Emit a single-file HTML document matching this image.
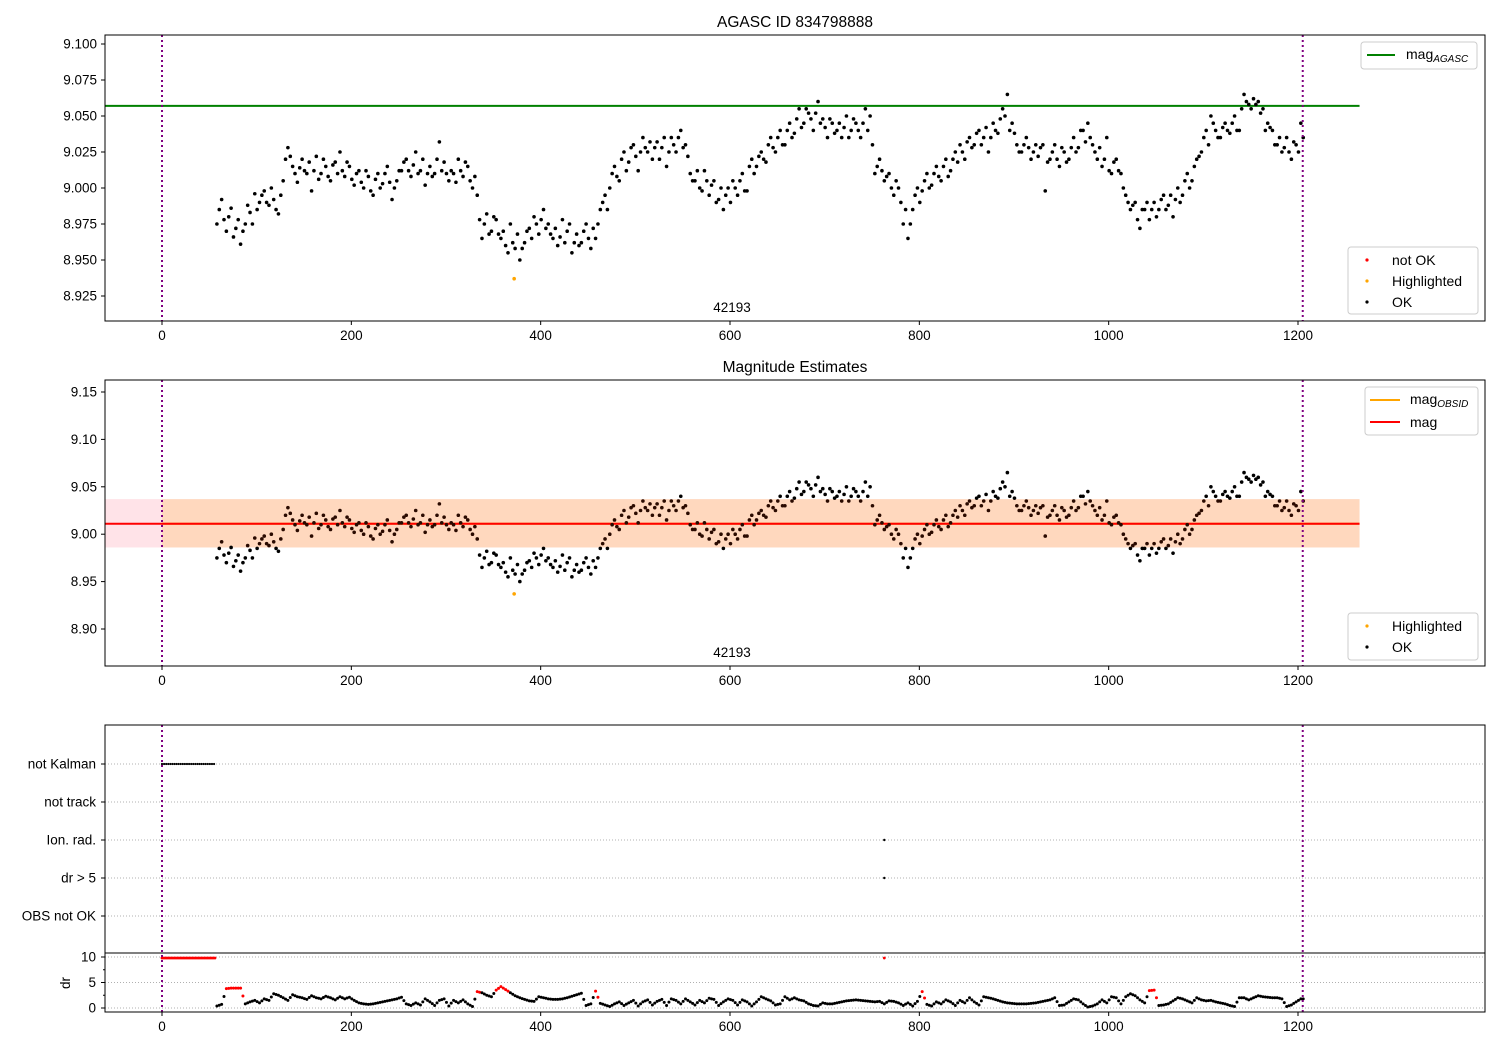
<!DOCTYPE html>
<html><head><meta charset="utf-8"><style>
body{margin:0;background:#fff;}
svg text{font-family:"Liberation Sans","DejaVu Sans",sans-serif;}
</style></head><body>
<svg id="chart" width="1500" height="1050" xmlns="http://www.w3.org/2000/svg"></svg>
<script>
// ----- data -----
const magT0 = 58, magStep = 5;
const magValues = [
8.975,8.992,8.970,8.986,8.972,8.961,8.975,8.983,8.996,8.990,
8.998,8.988,8.992,8.982,9.005,9.028,9.015,9.004,9.020,9.010,
8.998,9.022,9.010,9.015,9.005,9.018,9.025,9.008,9.015,9.002,
9.012,9.000,9.008,8.995,9.010,9.003,9.015,8.992,9.005,9.012,
9.020,9.008,9.025,9.012,9.002,9.015,9.010,9.032,9.018,9.005,
9.010,9.020,9.008,9.015,9.000,8.995,8.965,8.982,8.970,8.978,
8.965,8.960,8.975,8.958,8.950,8.962,8.972,8.980,8.968,8.985,
8.975,8.965,8.960,8.978,8.970,8.955,8.968,8.962,8.975,8.958,
8.965,8.985,8.995,9.000,9.015,9.005,9.025,9.018,9.030,9.012,
9.035,9.025,9.020,9.032,9.028,9.015,9.035,9.025,9.040,9.030,
9.010,9.005,9.000,9.012,8.995,9.005,8.992,8.985,9.000,9.005,
8.995,9.010,8.998,9.020,9.015,9.025,9.018,9.035,9.025,9.040,
9.030,9.045,9.038,9.055,9.045,9.052,9.040,9.060,9.048,9.035,
9.045,9.040,9.035,9.050,9.040,9.045,9.035,9.055,9.050,9.010,
9.020,9.005,9.010,8.995,9.000,8.975,8.965,8.985,9.000,8.998,
9.010,9.002,9.015,9.005,9.020,9.012,9.025,9.030,9.020,9.035,
9.030,9.040,9.035,9.025,9.045,9.038,9.055,9.065,9.045,9.030,
9.025,9.035,9.020,9.030,9.028,8.998,9.020,9.030,9.015,9.025,
9.020,9.035,9.028,9.040,9.045,9.030,9.020,9.015,9.035,9.010,
9.020,9.010,8.995,8.985,8.990,8.972,8.985,8.978,8.990,8.985,
8.995,8.988,8.980,9.000,8.995,9.010,9.005,9.020,9.025,9.040,
9.050,9.040,9.035,9.045,9.038,9.050,9.040,9.065,9.058,9.062,
9.060,9.055,9.045,9.040,9.030,9.025,9.035,9.020,9.030,9.045];
// second set of readings, sampled between the first ones (t = 60.5 + 5i)
const magT0B = 60.5;
const magValuesB = [
8.985,8.978,8.980,8.966,8.978,8.970,8.988,8.975,8.985,8.995,
8.990,9.000,8.985,8.995,9.020,9.022,9.010,9.014,9.012,9.018,
9.012,9.006,9.020,9.008,9.016,9.010,9.012,9.018,9.006,9.010,
9.004,9.012,8.998,9.006,9.000,9.010,9.004,9.000,9.012,9.018,
9.012,9.016,9.010,9.020,9.010,9.008,9.020,9.012,9.010,9.012,
9.004,9.012,9.018,9.005,9.008,8.978,8.975,8.968,8.980,8.968,
8.970,8.955,8.962,8.968,8.958,8.970,8.965,8.975,8.978,8.972,
8.968,8.972,8.966,8.962,8.975,8.962,8.960,8.970,8.965,8.972,
8.975,8.990,8.985,9.010,9.008,9.020,9.012,9.028,9.022,9.025,
9.028,9.032,9.028,9.020,9.035,9.025,9.030,9.035,9.028,9.022,
9.005,9.012,8.998,9.005,9.002,8.990,9.000,8.995,8.990,9.000,
9.005,8.998,9.015,9.010,9.022,9.020,9.030,9.028,9.035,9.030,
9.040,9.035,9.048,9.042,9.055,9.048,9.052,9.045,9.042,9.048,
9.038,9.045,9.042,9.035,9.048,9.040,9.045,9.040,9.030,9.015,
9.012,9.008,9.000,9.005,8.990,8.985,8.975,8.995,8.990,9.005,
9.000,9.010,9.008,9.015,9.008,9.020,9.018,9.025,9.032,9.028,
9.038,9.030,9.042,9.035,9.040,9.048,9.050,9.040,9.038,9.025,
9.030,9.028,9.025,9.022,9.030,9.018,9.025,9.020,9.028,9.018,
9.028,9.025,9.040,9.032,9.035,9.025,9.028,9.020,9.012,9.018,
9.012,9.000,8.990,8.988,8.978,8.985,8.990,8.985,8.980,8.992,
8.985,8.995,8.992,8.990,9.005,9.000,9.015,9.022,9.035,9.030,
9.045,9.035,9.042,9.040,9.045,9.040,9.055,9.060,9.055,9.058,
9.052,9.040,9.042,9.030,9.035,9.028,9.025,9.032,9.025,9.035];
const highlightT = [372];
const highlightMag = [8.937];
const drValues = [
0.4,0.7,3.8,3.9,3.9,3.9,0.8,1.2,1.5,1.0,
1.8,1.5,2.8,2.5,2.0,1.5,2.6,2.2,2.0,1.7,
2.4,2.0,1.8,2.3,2.0,1.6,2.2,1.8,2.1,1.5,
1.0,0.8,0.7,0.8,1.0,1.2,1.4,1.6,1.8,2.1,
0.8,0.5,1.0,0.6,1.8,1.2,0.5,1.5,1.8,0.4,
1.5,1.0,1.6,0.8,0.3,3.2,3.0,2.5,2.2,3.5,
4.2,3.6,3.0,2.4,2.0,1.7,1.4,1.3,2.2,2.0,
1.8,1.7,1.7,1.8,2.0,2.3,2.6,2.9,0.5,0.8,
3.3,0.9,0.6,0.3,0.8,1.2,0.5,1.0,1.5,0.4,
1.2,1.6,0.6,1.3,1.7,0.5,1.8,1.5,0.8,1.8,
1.2,0.6,1.5,1.0,1.9,1.7,0.5,1.2,1.8,1.5,
0.6,1.6,1.2,0.4,1.2,2.2,1.8,1.4,0.6,0.8,
2.2,1.6,2.0,1.6,1.4,0.8,0.5,0.4,1.0,0.8,
0.8,1.0,1.2,1.4,1.5,1.6,1.5,1.4,1.3,1.2,
1.3,0.8,1.4,1.3,1.0,0.5,1.0,0.4,1.3,3.2,
0.7,0.4,1.2,0.8,1.6,1.2,0.5,1.5,1.0,2.0,
1.2,0.6,2.2,2.0,1.8,1.5,1.2,1.0,0.9,0.8,
0.8,0.8,0.9,1.0,1.2,1.4,1.6,2.0,0.5,0.6,
1.2,1.8,1.6,0.8,0.2,0.4,0.8,1.6,1.0,2.2,
2.0,0.8,2.2,2.8,2.4,1.6,1.0,3.4,3.5,0.5,
0.6,0.8,1.4,2.0,1.8,1.4,1.0,2.0,1.6,1.4,
1.5,1.2,1.0,0.8,0.5,0.3,2.0,2.0,1.6,2.0,
2.4,2.2,2.1,2.0,2.0,1.8,0.3,0.6,1.2,1.8];
const kalmanStart = 0, kalmanEnd = 57;
const ionRadT = [763];
const drBigT = [763];
const xTicks = [0,200,400,600,800,1000,1200];
const y1Ticks = [8.925,8.950,8.975,9.000,9.025,9.050,9.075,9.100];
const y2Ticks = [8.90,8.95,9.00,9.05,9.10,9.15];
const flagLabels = ["not Kalman","not track","Ion. rad.","dr > 5","OBS not OK"];
const drTicks = [0,5,10];
const magAgasc = 9.057, magMean = 9.011, magLow = 8.986, magHigh = 9.037;
const obsStart = 0, obsEnd = 1205;

// ----- helpers -----
const svg = document.getElementById('chart');
const NS = 'http://www.w3.org/2000/svg';
function mk(tag, at, parent){const e=document.createElementNS(NS,tag);for(const k in at)e.setAttribute(k,at[k]);(parent||svg).appendChild(e);return e;}
const L=105,R=1485;
const X = t => 162 + (t)*0.94667;
const Y1 = m => 44 + (9.1-m)*1440;
const Y2 = m => 392 + (9.15-m)*948;
const YF = i => 764 + i*38;
const YD = d => 1008 - d*5.1;

function xAxis(bottom){
  xTicks.forEach(t=>{
    mk('line',{x1:X(t),x2:X(t),y1:bottom,y2:bottom+4,stroke:'#000'});
    const tx=mk('text',{x:X(t),y:bottom+19,'text-anchor':'middle','font-size':'13.5'});tx.textContent=t;
    
    
  });
}
function vlines(top,bottom){
  [obsStart,obsEnd].forEach(t=>{
    const l=mk('line',{x1:X(t),x2:X(t),y1:top,y2:bottom,stroke:'#800080','stroke-width':2,'stroke-dasharray':'2,3'});
    
    
  });
}
function dot(x,y,r,c,parent,name){
  const d=mk('circle',{cx:x,cy:y,r:r,fill:c},parent);
  
  
}
function legendBox(x,y,w,h,name){
  const g=mk('g',{});
  
  
  mk('rect',{x:x,y:y,width:w,height:h,rx:3,fill:'#fff','fill-opacity':0.8,stroke:'#ccc'},g);
  return g;
}
function allMag(fn){
  magValues.forEach((m,i)=>fn(magT0+i*magStep,m));
  magValuesB.forEach((m,i)=>fn(magT0B+i*magStep,m));
}

// ===== Panel 1 =====
let t1=mk('text',{x:795,y:27,'text-anchor':'middle','font-size':'15.5'});t1.textContent='AGASC ID 834798888';

const p1=mk('g',{});
vlines(35,321);
mk('line',{x1:L,x2:X(1265),y1:Y1(magAgasc),y2:Y1(magAgasc),stroke:'#008000','stroke-width':2},p1);
allMag((t,m)=>dot(X(t),Y1(m),1.8,'#000',p1,'ok-point'));
highlightT.forEach((t,i)=>dot(X(t),Y1(highlightMag[i]),1.8,'orange',p1,'highlighted-point'));
mk('rect',{x:L,y:35,width:R-L,height:286,fill:'none',stroke:'#000'});
y1Ticks.forEach(v=>{mk('line',{x1:L-4,x2:L,y1:Y1(v),y2:Y1(v),stroke:'#000'});
  const tx=mk('text',{x:L-8,y:Y1(v)+4.5,'text-anchor':'end','font-size':'13.5'});tx.textContent=v.toFixed(3);
  });
xAxis(321);
let o1=mk('text',{x:732,y:312,'text-anchor':'middle','font-size':'13.5'});o1.textContent='42193';

let lg=legendBox(1361,42,116,27,'agasc-legend');
mk('line',{x1:1367,x2:1395,y1:55,y2:55,stroke:'#008000','stroke-width':2},lg);
let lt=mk('text',{x:1406,y:59,'font-size':'14'},lg);lt.innerHTML='mag<tspan font-size="10" font-style="italic" dy="3">AGASC</tspan>';
lg=legendBox(1348,247,130,67,'status-legend');
[['not OK','red',260],['Highlighted','orange',281],['OK','#000',302]].forEach(a=>{
  mk('circle',{cx:1367,cy:a[2],r:1.6,fill:a[1]},lg);
  const t=mk('text',{x:1392,y:a[2]+5,'font-size':'14'},lg);t.textContent=a[0];});

// ===== Panel 2 =====
let t2=mk('text',{x:795,y:372,'text-anchor':'middle','font-size':'15.5'});t2.textContent='Magnitude Estimates';

const p2=mk('g',{});
mk('rect',{x:L,y:Y2(magHigh),width:X(1265)-L,height:Y2(magLow)-Y2(magHigh),fill:'#ffc0cb','fill-opacity':0.45},p2);
mk('rect',{x:X(0),y:Y2(magHigh),width:X(1265)-X(0),height:Y2(magLow)-Y2(magHigh),fill:'#ffa500','fill-opacity':0.18},p2);
vlines(380,666);
mk('line',{x1:X(0),x2:X(1265),y1:Y2(magMean),y2:Y2(magMean),stroke:'orange','stroke-width':2},p2);
mk('line',{x1:L,x2:X(1265),y1:Y2(magMean),y2:Y2(magMean),stroke:'red','stroke-width':2},p2);
allMag((t,m)=>dot(X(t),Y2(m),1.8,(m<magHigh&&m>magLow)?'#2a0a00':'#000',p2,'ok-point'));
highlightT.forEach((t,i)=>dot(X(t),Y2(highlightMag[i]),1.8,'orange',p2,'highlighted-point'));
mk('rect',{x:L,y:380,width:R-L,height:286,fill:'none',stroke:'#000'});
y2Ticks.forEach(v=>{mk('line',{x1:L-4,x2:L,y1:Y2(v),y2:Y2(v),stroke:'#000'});
  const tx=mk('text',{x:L-8,y:Y2(v)+4.5,'text-anchor':'end','font-size':'13.5'});tx.textContent=v.toFixed(2);
  });
xAxis(666);
let o2=mk('text',{x:732,y:657,'text-anchor':'middle','font-size':'13.5'});o2.textContent='42193';

lg=legendBox(1365,387,113,48,'mag-legend');
mk('line',{x1:1370,x2:1400,y1:400,y2:400,stroke:'orange','stroke-width':2},lg);
lt=mk('text',{x:1410,y:404,'font-size':'14'},lg);lt.innerHTML='mag<tspan font-size="10" font-style="italic" dy="3">OBSID</tspan>';
mk('line',{x1:1370,x2:1400,y1:422,y2:422,stroke:'red','stroke-width':2},lg);
lt=mk('text',{x:1410,y:427,'font-size':'14'},lg);lt.textContent='mag';
lg=legendBox(1348,613,130,47,'status-legend-2');
[['Highlighted','orange',626],['OK','#000',647]].forEach(a=>{
  mk('circle',{cx:1367,cy:a[2],r:1.6,fill:a[1]},lg);
  const t=mk('text',{x:1392,y:a[2]+5,'font-size':'14'},lg);t.textContent=a[0];});

// ===== Panel 3: flags =====
const p3=mk('g',{});
flagLabels.forEach((f,i)=>{
  mk('line',{x1:L,x2:R,y1:YF(i),y2:YF(i),stroke:'#b0b0b0','stroke-dasharray':'1,2'},p3);
  mk('line',{x1:L-4,x2:L,y1:YF(i),y2:YF(i),stroke:'#000'});
  const tx=mk('text',{x:L-9,y:YF(i)+4.5,'text-anchor':'end','font-size':'13.5'});tx.textContent=f;
  
});
for(let t=kalmanStart;t<=kalmanEnd;t+=2.2) dot(X(t),YF(0),1.1,'#000',p3,'not-kalman-point');
ionRadT.forEach(t=>dot(X(t),YF(2),1.2,'#000',p3,'ion-rad-point'));
drBigT.forEach(t=>dot(X(t),YF(3),1.2,'#000',p3,'dr-big-point'));
// dr subpanel
drTicks.forEach(v=>{mk('line',{x1:L,x2:R,y1:YD(v),y2:YD(v),stroke:'#b0b0b0','stroke-dasharray':'1,2'},p3);
  mk('line',{x1:L-4,x2:L,y1:YD(v),y2:YD(v),stroke:'#000'});
  const tx=mk('text',{x:L-9,y:YD(v)+4.5,'text-anchor':'end','font-size':'13.5'});tx.textContent=v;
  });
[2.5,7.5].forEach(v=>mk('line',{x1:L-2,x2:L,y1:YD(v),y2:YD(v),stroke:'#000'}));
vlines(725,1012);
for(let t=kalmanStart;t<=kalmanEnd;t+=1.6) dot(X(t),YD(9.8),1.4,'red',p3,'dr-not-ok-point');
drBigT.forEach(t=>dot(X(t),YD(9.8),1.4,'red',p3,'dr-not-ok-point'));
drValues.forEach((d,i)=>{
  const t0=magT0+i*magStep;
  const nx = i<drValues.length-1?drValues[i+1]:d;
  const c = d>3.1?'red':'#000';
  dot(X(t0),YD(d),1.5,c,p3,'dr-point');
  dot(X(t0+2.5),YD((d+nx)/2),1.5,c,p3,'dr-point');
});
mk('rect',{x:L,y:725,width:R-L,height:287,fill:'none',stroke:'#000'});
mk('line',{x1:L,x2:R,y1:953,y2:953,stroke:'#000'});
let dl=mk('text',{x:0,y:0,'text-anchor':'middle','font-size':'13.5',transform:'translate(70,983) rotate(-90)'});dl.textContent='dr';

xAxis(1012);
</script>
</body></html>
